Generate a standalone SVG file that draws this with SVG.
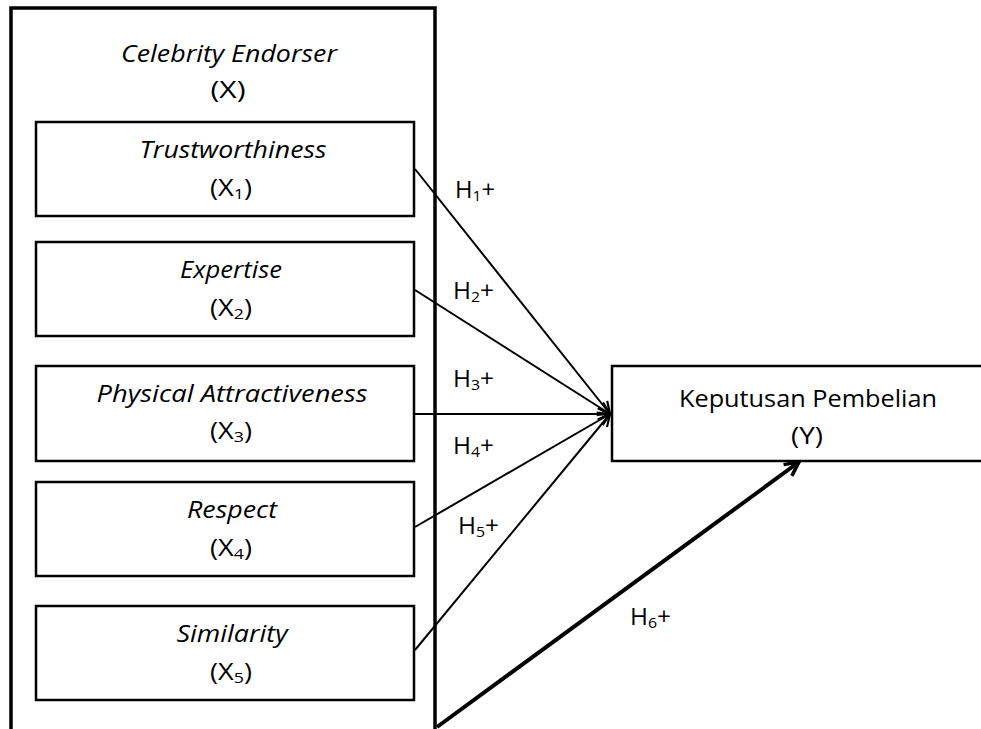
<svg xmlns="http://www.w3.org/2000/svg" width="981" height="729" viewBox="0 0 981 729">
<style>
.box{fill:#fff;stroke:#000;stroke-width:2.5}
.outer{fill:#fff;stroke:#000;stroke-width:3.5}
text{font-family:"Open Sans","Liberation Sans",sans-serif;font-size:23px;fill:#000;text-anchor:middle}
.it{font-style:italic}
.lbl{text-anchor:start}
.sub{font-size:15px}
.c{fill:none;stroke:#000;stroke-width:2}
.c6{fill:none;stroke:#000;stroke-width:4}
</style>
<defs>
<marker id="ah" markerUnits="userSpaceOnUse" markerWidth="16" markerHeight="16" viewBox="0 0 16 16" refX="14" refY="8" orient="auto">
<path d="M2,2 L14,8 L2,14" fill="none" stroke="#000" stroke-width="2.2"/>
</marker>
<marker id="ah6" markerUnits="userSpaceOnUse" markerWidth="20" markerHeight="20" viewBox="0 0 20 20" refX="18" refY="10" orient="auto">
<path d="M4,3 L18,10 L4,17" fill="none" stroke="#000" stroke-width="3.5"/>
</marker>
</defs>
<g id="X">
<rect class="outer" x="11" y="8" width="424" height="740"/>
<text class="it" x="229" y="62" textLength="216" lengthAdjust="spacingAndGlyphs">Celebrity Endorser</text>
<text x="228" y="98" textLength="35" lengthAdjust="spacingAndGlyphs">(X)</text>
</g>
<g id="X1">
<rect class="box" x="36" y="122" width="378" height="94"/>
<text class="it" x="233" y="158" textLength="187" lengthAdjust="spacingAndGlyphs">Trustworthiness</text>
<text x="231" y="196" textLength="42" lengthAdjust="spacingAndGlyphs">(X<tspan class="sub" dy="3">1</tspan><tspan dy="-3">)</tspan></text>
</g>
<g id="X2">
<rect class="box" x="36" y="242" width="378" height="94"/>
<text class="it" x="231" y="278" textLength="102" lengthAdjust="spacingAndGlyphs">Expertise</text>
<text x="231" y="316" textLength="42" lengthAdjust="spacingAndGlyphs">(X<tspan class="sub" dy="3">2</tspan><tspan dy="-3">)</tspan></text>
</g>
<g id="X3">
<rect class="box" x="36" y="366" width="378" height="95"/>
<text class="it" x="232" y="402" textLength="271" lengthAdjust="spacingAndGlyphs">Physical Attractiveness</text>
<text x="231" y="439" textLength="42" lengthAdjust="spacingAndGlyphs">(X<tspan class="sub" dy="3">3</tspan><tspan dy="-3">)</tspan></text>
</g>
<g id="X4">
<rect class="box" x="36" y="482" width="378" height="94"/>
<text class="it" x="232" y="518" textLength="90" lengthAdjust="spacingAndGlyphs">Respect</text>
<text x="231" y="556" textLength="42" lengthAdjust="spacingAndGlyphs">(X<tspan class="sub" dy="3">4</tspan><tspan dy="-3">)</tspan></text>
</g>
<g id="X5">
<rect class="box" x="36" y="606" width="378" height="94"/>
<text class="it" x="232" y="642" textLength="111" lengthAdjust="spacingAndGlyphs">Similarity</text>
<text x="231" y="680" textLength="42" lengthAdjust="spacingAndGlyphs">(X<tspan class="sub" dy="3">5</tspan><tspan dy="-3">)</tspan></text>
</g>
<g id="Y">
<rect class="box" x="612" y="366" width="400" height="95"/>
<text x="808" y="407" textLength="258" lengthAdjust="spacingAndGlyphs">Keputusan Pembelian</text>
<text x="807" y="444" textLength="32" lengthAdjust="spacingAndGlyphs">(Y)</text>
</g>
<g id="connectors">
<line class="c" x1="415" y1="169" x2="610" y2="414" marker-end="url(#ah)"/>
<line class="c" x1="415" y1="290" x2="610" y2="414" marker-end="url(#ah)"/>
<line class="c" x1="415" y1="414" x2="610" y2="414" marker-end="url(#ah)"/>
<line class="c" x1="415" y1="527" x2="610" y2="414" marker-end="url(#ah)"/>
<line class="c" x1="415" y1="650" x2="610" y2="414" marker-end="url(#ah)"/>
<line class="c6" x1="437" y1="727" x2="799" y2="462" marker-end="url(#ah6)"/>
<text class="lbl" x="455" y="198" textLength="40" lengthAdjust="spacingAndGlyphs">H<tspan class="sub" dy="3">1</tspan><tspan dy="-3">+</tspan></text>
<text class="lbl" x="453" y="299" textLength="41" lengthAdjust="spacingAndGlyphs">H<tspan class="sub" dy="3">2</tspan><tspan dy="-3">+</tspan></text>
<text class="lbl" x="453" y="387" textLength="41" lengthAdjust="spacingAndGlyphs">H<tspan class="sub" dy="3">3</tspan><tspan dy="-3">+</tspan></text>
<text class="lbl" x="453" y="454" textLength="41" lengthAdjust="spacingAndGlyphs">H<tspan class="sub" dy="3">4</tspan><tspan dy="-3">+</tspan></text>
<text class="lbl" x="458" y="534" textLength="41" lengthAdjust="spacingAndGlyphs">H<tspan class="sub" dy="3">5</tspan><tspan dy="-3">+</tspan></text>
<text class="lbl" x="630" y="625" textLength="41" lengthAdjust="spacingAndGlyphs">H<tspan class="sub" dy="3">6</tspan><tspan dy="-3">+</tspan></text>
</g>
</svg>
